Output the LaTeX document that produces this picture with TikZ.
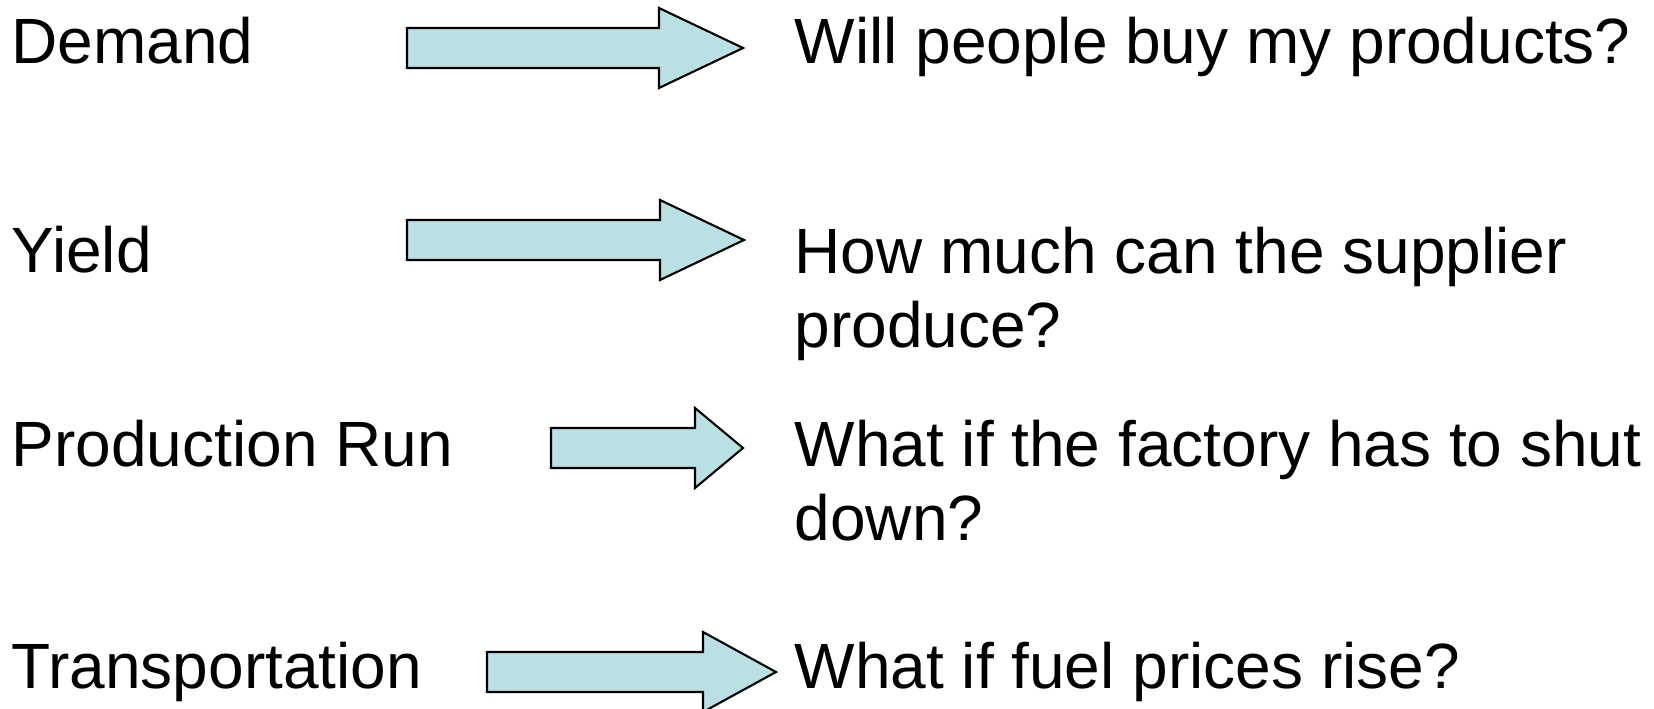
\documentclass[tikz,border=0pt]{standalone}
\usepackage{fontspec}
\setmainfont{Liberation Sans}

\definecolor{arrowfill}{RGB}{187,224,227}
\tikzset{
  lbl/.style={anchor=base west, inner sep=0pt, font=\fontsize{18.2pt}{21pt}\selectfont},
  qtxt/.style={lbl, align=left},
  blockarr/.style={draw=black, line width=0.6pt, fill=arrowfill, line join=miter}
}
% tail x, head base x, tip x, middle y
\newcommand{\blockarrow}[4]{%
  \draw[blockarr] (#1,#4-20) -- (#2,#4-20) -- (#2,#4-40) -- (#3,#4)
    -- (#2,#4+40) -- (#2,#4+20) -- (#1,#4+20) -- cycle;}

\begin{document}
\begin{tikzpicture}[x=0.01cm, y=-0.01cm]
\useasboundingbox (0,0) rectangle (1654,709);
% labels
\node[lbl] (demand) at (11,64) {Demand};
\node[lbl] (yield) at (11,272) {Yield};
\node[lbl] (prodrun) at (11,466) {Production Run};
\node[lbl] (transp) at (11,688) {Transportation};
% questions (multi-line ones sit on their last line)
\node[qtxt] (qdemand) at (794,64) {Will people buy my products?};
\node[qtxt] (qyield) at (794,347) {How much can the supplier\\produce?};
\node[qtxt] (qprodrun) at (794,540) {What if the factory has to shut\\down?};
\node[qtxt] (qtransp) at (794,688) {What if fuel prices rise?};
% arrows
\blockarrow{407}{659}{743}{48}
\blockarrow{407}{660}{744}{240}
\blockarrow{551}{695}{743}{448}
\blockarrow{487}{703}{776}{672}
\end{tikzpicture}
\end{document}
